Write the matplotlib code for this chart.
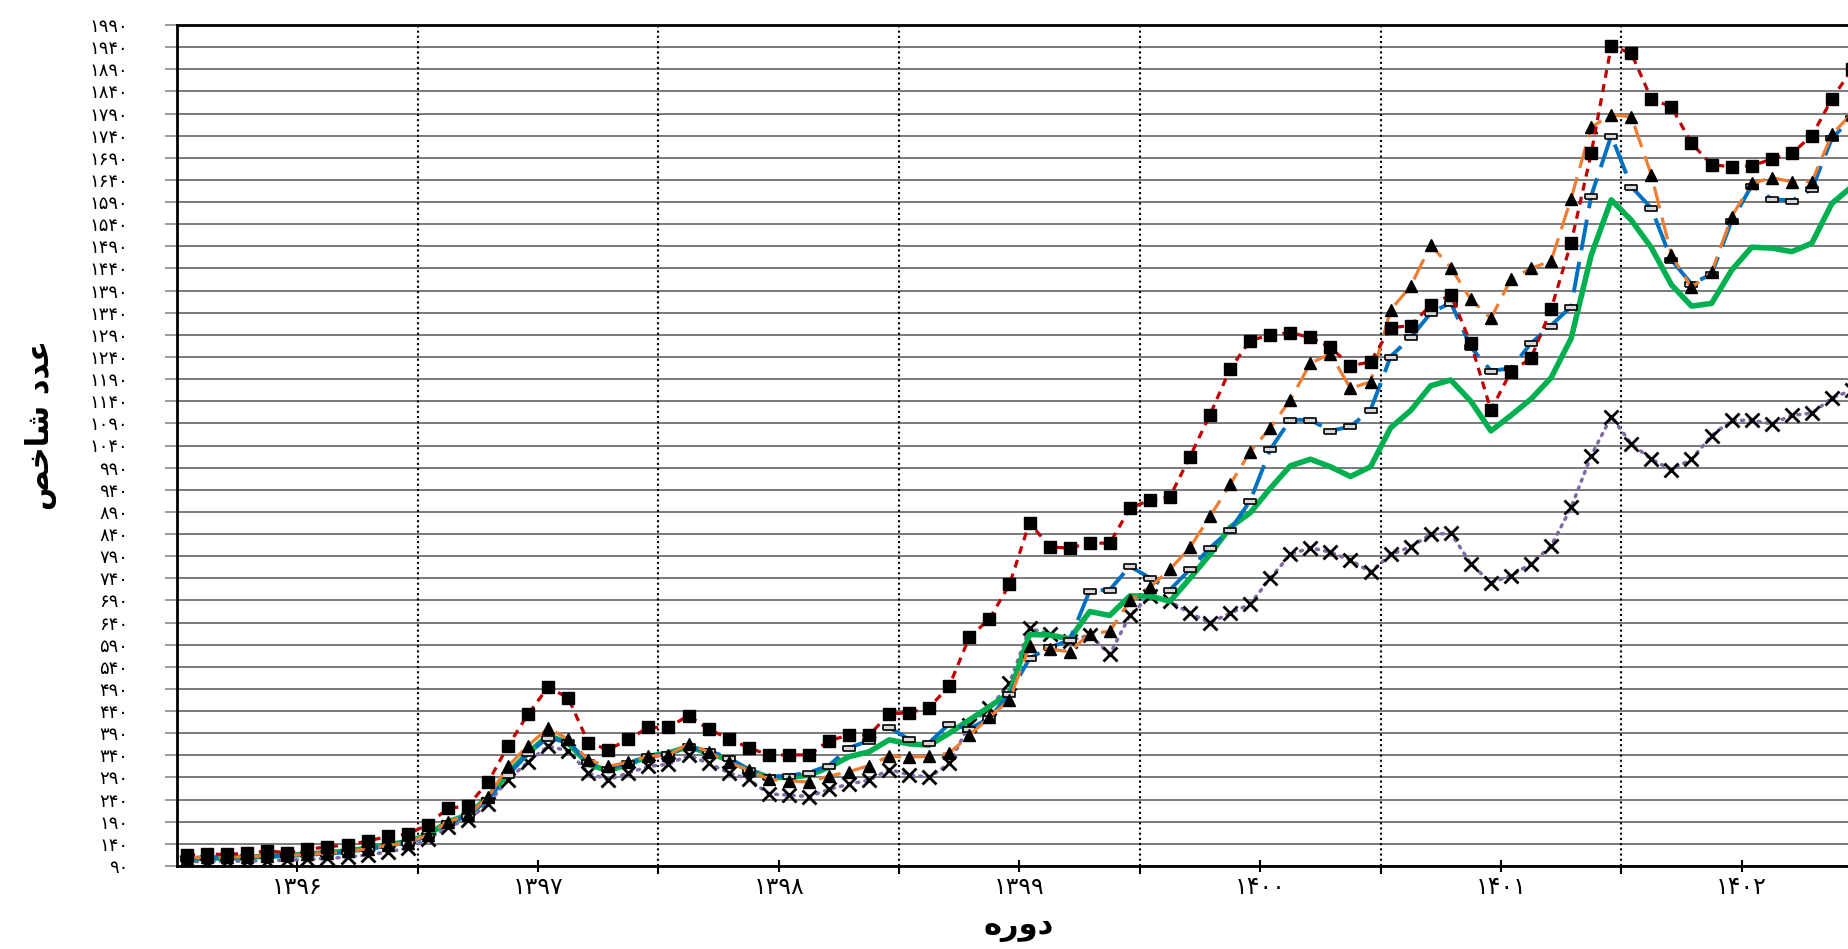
import numpy as np
import matplotlib.pyplot as plt

# monthly index values, 1396/01 .. 1402/12
red = [115, 117, 116, 119, 124, 120, 128, 133, 138, 146, 157, 162,
       183, 220, 226, 279, 361, 433, 494, 470, 369, 353, 376, 403,
       403, 430, 399, 378, 357, 341, 341, 341, 373, 386, 385, 434,
       436, 448, 497, 607, 648, 726, 866, 811, 808, 820, 819, 898,
       917, 924, 1015, 1110, 1213, 1277, 1290, 1295, 1284, 1262, 1220, 1229,
       1306, 1311, 1357, 1380, 1271, 1120, 1207, 1237, 1348, 1498, 1700, 1943,
       1926, 1823, 1805, 1723, 1674, 1670, 1672, 1687, 1700, 1740, 1823, 1890]
orange = [108, 110, 110, 111, 113, 114, 116, 119, 123, 129, 137, 143,
          160, 190, 205, 245, 315, 362, 401, 377, 330, 315, 325, 338,
          341, 366, 348, 324, 307, 286, 282, 280, 293, 303, 317, 338,
          336, 338, 345, 385, 426, 465, 587, 580, 574, 615, 620, 690,
          720, 760, 810, 880, 952, 1026, 1080, 1143, 1226, 1247, 1169, 1184,
          1346, 1400, 1493, 1442, 1370, 1327, 1416, 1440, 1457, 1598, 1759, 1787,
          1783, 1651, 1470, 1397, 1431, 1557, 1632, 1645, 1636, 1636, 1743, 1790]
blue = [106, 108, 108, 110, 112, 114, 116, 118, 122, 128, 136, 142,
        158, 188, 203, 240, 295, 345, 380, 370, 325, 310, 322, 338,
        343, 360, 350, 335, 308, 292, 294, 301, 317, 357, 373, 403,
        376, 369, 411, 400, 424, 479, 559, 584, 600, 712, 714, 767,
        741, 714, 760, 809, 849, 915, 1031, 1098, 1098, 1073, 1083, 1120,
        1241, 1284, 1339, 1363, 1262, 1209, 1214, 1271, 1311, 1354, 1604, 1740,
        1625, 1576, 1459, 1405, 1427, 1547, 1627, 1597, 1593, 1619, 1734, 1780]
green = [106, 108, 108, 110, 112, 114, 117, 120, 124, 130, 138, 145,
         160, 190, 205, 245, 300, 345, 385, 368, 320, 305, 320, 338,
         345, 360, 345, 330, 307, 290, 290, 295, 313, 337, 348, 375,
         366, 363, 390, 420, 450, 480, 613, 612, 603, 665, 656, 700,
         700, 688, 740, 794, 855, 888, 943, 994, 1009, 992, 970, 992,
         1080, 1119, 1175, 1188, 1140, 1073, 1108, 1145, 1193, 1282, 1470, 1595,
         1549, 1487, 1403, 1355, 1361, 1436, 1488, 1486, 1478, 1497, 1587, 1625]
purple = [100, 100, 101, 101, 102, 103, 105, 107, 110, 115, 122, 130,
          150, 178, 195, 230, 285, 325, 361, 350, 300, 285, 300, 315,
          320, 340, 322, 301, 286, 253, 250, 247, 263, 275, 284, 308,
          296, 290, 322, 409, 446, 503, 627, 614, 599, 612, 568, 656,
          700, 688, 661, 640, 661, 682, 740, 794, 809, 799, 781, 754,
          794, 811, 839, 842, 773, 730, 746, 773, 813, 900, 1017, 1105,
          1044, 1009, 985, 1009, 1062, 1097, 1097, 1089, 1108, 1113, 1147, 1165]

years = ['1396', '1397', '1398', '1399', '1400', '1401', '1402']
y_ticks = list(range(90, 2000, 50))

fa = str.maketrans('0123456789', '۰۱۲۳۴۵۶۷۸۹')


def to_fa(s):
    return str(s).translate(fa)


plt.rcParams['font.family'] = ['DejaVu Sans']

fig = plt.figure(figsize=(18.49, 9.49), dpi=100)
ax = fig.add_axes([177 / 1849, 83 / 949, 1685 / 1849, 841 / 949])

x = np.arange(len(red)) + 0.5

# horizontal grid
for v in y_ticks:
    ax.axhline(v, color='#6f6f6f', lw=1.3, zorder=1)
# year boundaries
for k in range(1, len(years)):
    ax.axvline(12 * k, color='black', lw=1.5, ls=(0, (1, 1.5)), zorder=1)

rect = [(-1, -0.45), (1, -0.45), (1, 0.45), (-1, 0.45), (-1, -0.45)]

ax.plot(x, purple, color='#7f6aa6', lw=2.5, ls=(0, (0.6, 1.8)), dash_capstyle='round',
        marker='x', ms=10, mew=2, mec='black', zorder=3)
ax.plot(x, green, color='#00b050', lw=4, zorder=4)
ax.plot(x, blue, color='#0070c0', lw=2.8, ls=(0, (8, 3)),
        marker=rect, ms=8, mfc='#d9d9d9', mec='black', mew=1.2, zorder=5)
ax.plot(x, orange, color='#ed7d31', lw=2.3, ls=(0, (7, 3)),
        marker='^', ms=8.5, mfc='black', mec='black', zorder=6)
ax.plot(x, red, color='#c00000', lw=2.3, ls=(0, (2.5, 2)),
        marker='s', ms=8.5, mfc='black', mec='black', zorder=7)

ax.set_xlim(0, 12 * len(years))
ax.set_ylim(90, 1990)

ax.set_yticks(y_ticks)
ax.set_yticklabels([to_fa(v) for v in y_ticks], fontsize=13)
ax.tick_params(axis='y', length=9, width=1.2, color='#8a8a8a', pad=26)

ax.set_xticks([12 * k + 6 for k in range(len(years))])
ax.set_xticklabels([to_fa(y) for y in years], fontsize=17)
ax.set_xticks([12 * k for k in range(1, len(years))], minor=True)
ax.tick_params(axis='x', which='major', direction='inout', length=9, width=1.5, pad=2)
ax.tick_params(axis='x', which='minor', direction='out', length=6, width=1.5)

for s in ['left', 'bottom', 'top']:
    ax.spines[s].set_linewidth(2)
    ax.spines[s].set_zorder(8)
ax.spines['right'].set_visible(False)

# Persian axis titles in presentation forms (visual order)
fig.text(41 / 1849, 1 - 425 / 949, '\uFEBA\uFEA7\uFE8E\uFEB7 \uFEA9\uFEAA\uFECB',
         rotation=90, ha='center', va='center', fontsize=22, fontweight='bold')
fig.text(1019 / 1849, 1 - 928 / 949, '\u0647\u0631\u0648\u062f',
         ha='center', va='center', fontsize=22, fontweight='bold')

fig.savefig('out.png', dpi=100)
